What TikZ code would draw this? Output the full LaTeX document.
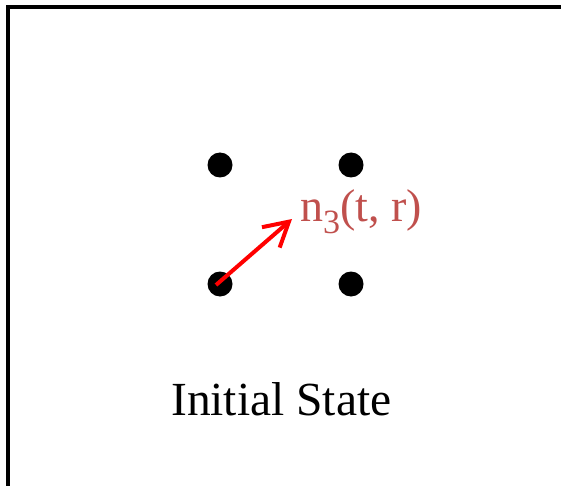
\documentclass[tikz,border=0pt]{standalone}
\usepackage{fontspec}
\setmainfont{Liberation Serif}
\usetikzlibrary{arrows.meta}
\definecolor{labred}{HTML}{C0504D}
\tikzset{
  dot/.style={circle,fill=black,inner sep=0pt,minimum size=25pt},
  frameline/.style={line width=4pt,line join=miter},
  motion/.style={red,line width=4pt,-{Straight Barb[length=24pt,width=27pt,line join=miter]}},
  lbl/.style={inner sep=0pt,anchor=base west}
}
\begin{document}
\begin{tikzpicture}[x=1pt,y=1pt]
\useasboundingbox (0,0) rectangle (561,485);
\draw[frameline] (8,-10) -- (8,478) -- (575,478);
\node[dot] (d1) at (220,320) {};
\node[dot] (d2) at (351,320) {};
\node[dot] (d3) at (220,201) {};
\node[dot] (d4) at (351,201) {};
\coordinate (tip) at (292,266);
\coordinate (start) at (216,200);
\draw[motion] (start) -- (tip);
\node[lbl,text=labred,font=\fontsize{46}{52}\selectfont] (lab) at (300,263.5) {n\raisebox{-12pt}{\fontsize{34}{38}\selectfont 3}(t, r)};
\node[lbl,font=\fontsize{47.5}{54}\selectfont] (title) at (171,70) {Initial State};
\end{tikzpicture}
\end{document}
